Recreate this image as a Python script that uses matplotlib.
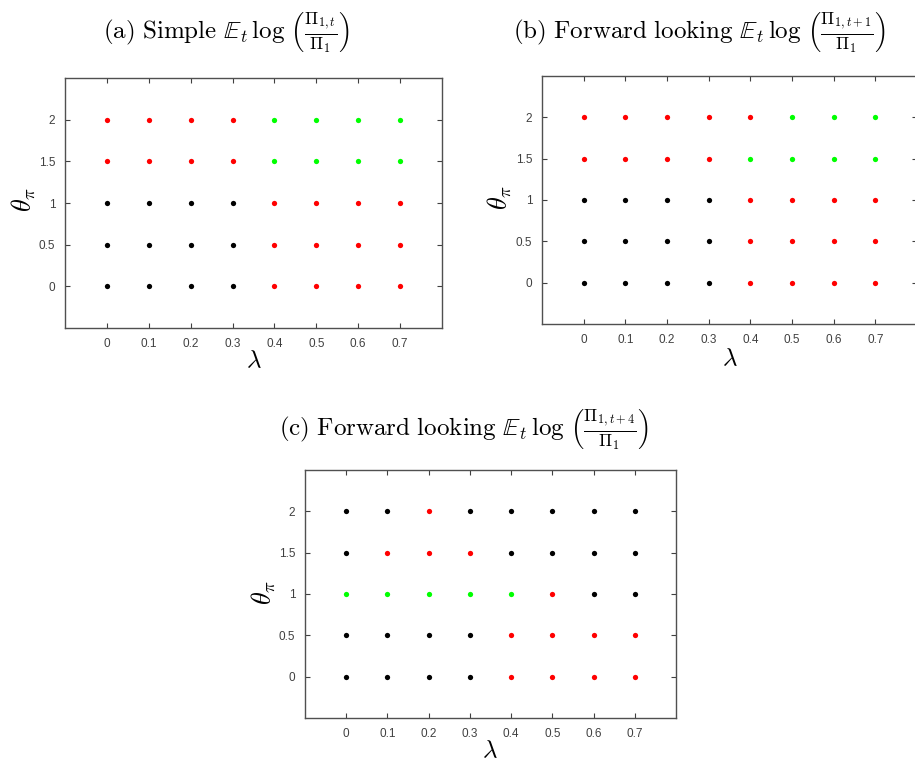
import matplotlib
matplotlib.use("Agg")
import matplotlib.pyplot as plt
import numpy as np

# grid of parameters
lambdas = [0, 0.1, 0.2, 0.3, 0.4, 0.5, 0.6, 0.7]
thetas = [2, 1.5, 1, 0.5, 0]
x_ticklabels = ["0", "0.1", "0.2", "0.3", "0.4", "0.5", "0.6", "0.7"]
y_ticklabels = ["0", "0.5", "1", "1.5", "2"]

# colour code per cell, rows follow thetas (2 -> 0), columns follow lambdas
# r = red, g = green, k = black
codes_a = ["rrrrgggg",
           "rrrrgggg",
           "kkkkrrrr",
           "kkkkrrrr",
           "kkkkrrrr"]
codes_b = ["rrrrrggg",
           "rrrrgggg",
           "kkkkrrrr",
           "kkkkrrrr",
           "kkkkrrrr"]
codes_c = ["kkrkkkkk",
           "krrrkkkk",
           "gggggrkk",
           "kkkkrrrr",
           "kkkkrrrr"]

titles = [
    r"$\mathrm{(a)\ Simple}\ \mathbb{E}_t\,\log\,\left(\frac{\Pi_{1,t}}{\Pi_1}\right)$",
    r"$\mathrm{(b)\ Forward\ looking}\ \mathbb{E}_t\,\log\,\left(\frac{\Pi_{1,t+1}}{\Pi_1}\right)$",
    r"$\mathrm{(c)\ Forward\ looking}\ \mathbb{E}_t\,\log\,\left(\frac{\Pi_{1,t+4}}{\Pi_1}\right)$",
]

colmap = {"r": (1, 0, 0), "g": (0, 1, 0), "k": (0, 0, 0)}

plt.rcParams["mathtext.fontset"] = "cm"
plt.rcParams["font.family"] = ["Liberation Sans", "DejaVu Sans"]

W, H = 915, 763
fig = plt.figure(figsize=(W / 100, H / 100), dpi=100)


def px(x, y):
    return x / W, 1 - y / H


def draw_panel(rect, codes):
    l, t, r, b = rect
    ax = fig.add_axes([l / W, 1 - b / H, (r - l) / W, (b - t) / H])
    for i, th in enumerate(thetas):
        for j, lam in enumerate(lambdas):
            ax.plot(lam, th, "o", ms=3.8, mec="none", color=colmap[codes[i][j]])
    ax.set_xlim(-0.1, 0.8)
    ax.set_ylim(-0.5, 2.5)
    ax.set_xticks(lambdas)
    ax.set_xticklabels(x_ticklabels)
    ax.set_yticks([0, 0.5, 1, 1.5, 2])
    ax.set_yticklabels(y_ticklabels)
    ax.tick_params(direction="in", top=True, right=True, length=3.5,
                   width=0.8, labelsize=8.5, colors="#404040", pad=7)
    for s in ax.spines.values():
        s.set_color("#505050")
        s.set_linewidth(1.0)
    return ax


panels = [
    ((65, 78, 442, 328), codes_a),
    ((542, 76, 917, 324), codes_b),
    ((305, 470, 676, 718), codes_c),
]
for rect, codes in panels:
    draw_panel(rect, codes)

# titles
fig.text(*px(226, 33), titles[0], ha="center", va="center", fontsize=18)
fig.text(*px(700, 33), titles[1], ha="center", va="center", fontsize=18)
fig.text(*px(464, 430), titles[2], ha="center", va="center", fontsize=18)

# axis labels
for (x, y) in [(24, 200), (500, 198), (264, 593)]:
    fig.text(*px(x, y), r"$\theta_\pi$", rotation=90, ha="center",
             va="center", fontsize=19)
for (x, y) in [(254, 360), (730, 358), (490, 750)]:
    fig.text(*px(x, y), r"$\lambda$", ha="center", va="center", fontsize=18)

fig.savefig("out.png", dpi=100)
